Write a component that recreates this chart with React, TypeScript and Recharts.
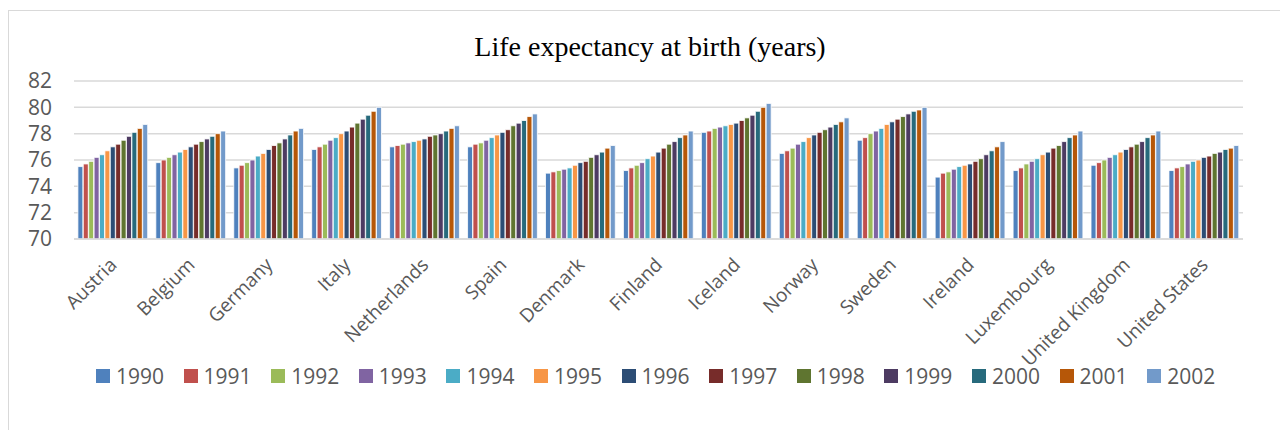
import { Bar, BarChart, CartesianGrid, Legend, XAxis, YAxis } from 'recharts';

const YEARS = ['1990', '1991', '1992', '1993', '1994', '1995', '1996', '1997', '1998', '1999', '2000', '2001', '2002'];

const COUNTRIES = [
  'Austria', 'Belgium', 'Germany', 'Italy', 'Netherlands', 'Spain', 'Denmark', 'Finland',
  'Iceland', 'Norway', 'Sweden', 'Ireland', 'Luxembourg', 'United Kingdom', 'United States',
];

// one list per country, 1990..2002
const austria = [75.5, 75.7, 75.9, 76.2, 76.4, 76.7, 77.0, 77.2, 77.5, 77.8, 78.1, 78.4, 78.7];
const belgium = [75.8, 76.0, 76.2, 76.4, 76.6, 76.8, 77.0, 77.2, 77.4, 77.6, 77.8, 78.0, 78.2];
const germany = [75.4, 75.6, 75.8, 76.0, 76.3, 76.5, 76.8, 77.1, 77.3, 77.6, 77.9, 78.2, 78.4];
const italy = [76.8, 77.0, 77.2, 77.5, 77.7, 78.0, 78.2, 78.5, 78.8, 79.1, 79.4, 79.7, 80.0];
const netherlands = [77.0, 77.1, 77.2, 77.3, 77.4, 77.5, 77.6, 77.8, 77.9, 78.0, 78.2, 78.4, 78.6];
const spain = [77.0, 77.2, 77.3, 77.5, 77.7, 77.9, 78.1, 78.3, 78.6, 78.8, 79.0, 79.3, 79.5];
const denmark = [75.0, 75.1, 75.2, 75.3, 75.4, 75.6, 75.8, 75.9, 76.2, 76.4, 76.6, 76.9, 77.1];
const finland = [75.2, 75.4, 75.6, 75.8, 76.1, 76.3, 76.6, 76.9, 77.2, 77.4, 77.7, 77.9, 78.2];
const iceland = [78.1, 78.2, 78.4, 78.5, 78.6, 78.7, 78.8, 79.0, 79.2, 79.4, 79.7, 80.0, 80.3];
const norway = [76.5, 76.7, 76.9, 77.2, 77.4, 77.7, 77.9, 78.1, 78.3, 78.5, 78.7, 78.9, 79.2];
const sweden = [77.5, 77.7, 78.0, 78.2, 78.4, 78.7, 78.9, 79.1, 79.3, 79.5, 79.7, 79.8, 80.0];
const ireland = [74.7, 75.0, 75.1, 75.3, 75.5, 75.6, 75.7, 75.9, 76.1, 76.4, 76.7, 77.0, 77.4];
const luxembourg = [75.2, 75.4, 75.7, 75.9, 76.1, 76.4, 76.6, 76.9, 77.1, 77.4, 77.7, 77.9, 78.2];
const unitedKingdom = [75.6, 75.8, 76.0, 76.2, 76.4, 76.6, 76.8, 77.0, 77.2, 77.4, 77.7, 77.9, 78.2];
const unitedStates = [75.2, 75.4, 75.5, 75.7, 75.9, 76.0, 76.2, 76.3, 76.5, 76.6, 76.8, 76.9, 77.1];

const VALUES = [
  austria, belgium, germany, italy, netherlands, spain, denmark, finland,
  iceland, norway, sweden, ireland, luxembourg, unitedKingdom, unitedStates,
];

const Y_TICKS = [70, 72, 74, 76, 78, 80, 82];

const COLORS = [
  '#4F81BD', '#C0504D', '#9BBB59', '#8064A2', '#4BACC6', '#F79646', '#2C4D75',
  '#772C2A', '#5F7530', '#4D3B62', '#276A7C', '#B65708', '#729ACA',
];

const data = COUNTRIES.map((name, i) => {
  const row: Record<string, any> = { name };
  YEARS.forEach((y, j) => {
    row[y] = VALUES[i][j];
  });
  return row;
});

const FONT = '"Open Sans", "Noto Sans", sans-serif';
const TEXT = '#595959';

function CountryTick({ x, y, payload }: any) {
  return (
    <text
      x={x + 5}
      y={y + 27}
      transform={`rotate(-45, ${x + 5}, ${y + 27})`}
      textAnchor="end"
      fill={TEXT}
      fontSize={19}
      fontFamily={FONT}
    >
      {payload.value}
    </text>
  );
}

function YearLegend() {
  return (
    <div style={{ display: 'flex', alignItems: 'center', height: 30, paddingLeft: 87 }}>
      {YEARS.map((y, i) => (
        <div key={y} style={{ display: 'flex', alignItems: 'center', width: 87.6 }}>
          <span style={{ width: 14, height: 14, background: COLORS[i], marginRight: 6 }} />
          <span style={{ fontFamily: FONT, fontSize: 21, color: TEXT, lineHeight: '30px' }}>{y}</span>
        </div>
      ))}
    </div>
  );
}

export default function App() {
  return (
    <div
      style={{
        position: 'relative',
        marginTop: 2,
        width: 1280,
        height: 420,
        borderTop: '1px solid #d9d9d9',
        borderLeft: '1px solid #d9d9d9',
      }}
    >
      <div
        style={{
          position: 'absolute',
          top: 22,
          left: 0,
          width: 1282,
          textAlign: 'center',
          fontFamily: '"Liberation Serif", "DejaVu Serif", serif',
          fontSize: 28,
          lineHeight: '28px',
          color: '#000',
        }}
      >
        Life expectancy at birth (years)
      </div>
      <BarChart
        width={1280}
        height={420}
        data={data}
        margin={{ top: 70, right: 46, left: 0, bottom: 40 }}
        barCategoryGap="5%"
        barGap={0.4}
      >
        <CartesianGrid vertical={false} stroke="#d9d9d9" strokeWidth={1.5} />
        <XAxis
          dataKey="name"
          interval={0}
          height={122}
          tickLine={false}
          tickSize={0}
          tickMargin={0}
          axisLine={{ stroke: '#d9d9d9', strokeWidth: 1.5 }}
          tick={<CountryTick />}
        />
        <YAxis
          domain={[70, 82]}
          ticks={Y_TICKS}
          interval={0}
          width={65}
          axisLine={false}
          tickLine={false}
          tickSize={0}
          tickMargin={22}
          tick={{ fill: TEXT, fontSize: 21, fontFamily: FONT }}
        />
        <Legend
          verticalAlign="bottom"
          content={<YearLegend />}
          wrapperStyle={{ left: 0, width: 1280 }}
        />
        {YEARS.map((y, i) => (
          <Bar
            key={y}
            dataKey={y}
            fill={COLORS[i]}
            stroke="#ffffff"
            strokeWidth={0.8}
            isAnimationActive={false}
          />
        ))}
      </BarChart>
    </div>
  );
}
